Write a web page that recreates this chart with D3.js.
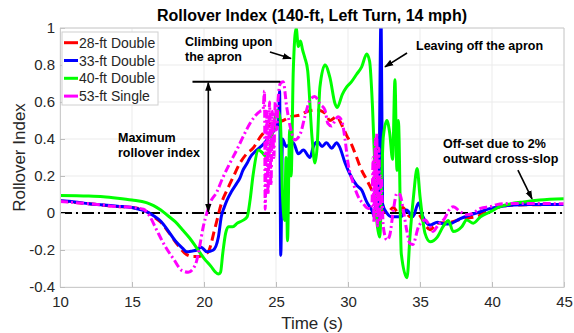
<!DOCTYPE html>
<html>
<head>
<meta charset="utf-8">
<script src="https://cdn.jsdelivr.net/npm/d3@7"></script>
<style>
  html, body { margin: 0; padding: 0; background: #fff; }
  svg { display: block; font-family: "Liberation Sans", Arial, Helvetica, sans-serif; }
</style>
</head>
<body>
<svg id="chart" width="574" height="333"></svg>
<script>
// ---------- data ----------
const xTicks = [10, 15, 20, 25, 30, 35, 40, 45];
const yTicks = [-0.4, -0.2, 0, 0.2, 0.4, 0.6, 0.8, 1];
const seriesNames = ["28-ft Double", "33-ft Double", "40-ft Double", "53-ft Single"];

const t28 = [10, 12, 14, 15, 16, 16.5, 17, 17.6, 18.2, 18.8, 19.2, 19.6, 20.0, 20.3, 20.5, 20.7, 20.9, 21.2, 21.6, 22.0, 22.5, 22.96, 23.4, 23.9, 24.1, 24.7, 25.05, 25.5, 26.0, 26.7, 27.2, 27.8, 28.4, 28.75, 29.2, 29.6, 29.9, 30.25, 30.6, 30.95, 31.3, 31.65, 32.0, 32.3, 32.7, 33.15, 33.5, 33.8, 34.3, 34.8, 35.2, 35.45, 35.7, 36.2, 37.1, 38.0, 38.9, 40.1, 41.5, 45];
const v28 = [0.065, 0.05, 0.035, 0.03, 0.008, -0.02, -0.05, -0.11, -0.175, -0.225, -0.235, -0.235, -0.225, -0.21, -0.165, -0.1, -0.04, 0.05, 0.124, 0.19, 0.27, 0.32, 0.35, 0.41, 0.43, 0.485, 0.49, 0.5, 0.52, 0.53, 0.55, 0.557, 0.54, 0.50, 0.52, 0.47, 0.42, 0.37, 0.30, 0.23, 0.18, 0.124, 0.07, 0.016, 0.0, 0.03, 0.0, 0.03, -0.02, 0.0, -0.04, -0.074, -0.09, -0.055, -0.05, -0.03, -0.02, 0.022, 0.043, 0.046];

const t33 = [10, 11, 12, 13, 14, 15, 15.5, 16, 16.5, 17, 17.5, 18, 18.5, 18.8, 19.2, 19.5, 19.8, 20.2, 20.65, 21.0, 21.2, 21.4, 21.6, 21.9, 22.27, 22.5, 22.7, 23.0, 23.2, 23.66, 24.1, 24.6, 25.05, 25.18, 25.25, 25.33, 25.45, 25.7, 26.2, 26.55, 26.9, 27.36, 27.6, 27.9, 28.2, 28.5, 28.87, 29.2, 29.4, 29.8, 30.1, 30.6, 30.95, 31.3, 31.65, 31.9, 32.0, 32.1, 32.3, 32.4, 32.7, 33.0, 33.4, 33.7, 34.07, 34.5, 34.9, 35.2, 35.7, 36.2, 36.7, 37.2, 37.8, 38.5, 39.2, 39.9, 40.55, 41.5, 42.6, 45];
const v33 = [0.066, 0.06, 0.05, 0.043, 0.037, 0.03, 0.02, 0.007, -0.015, -0.045, -0.095, -0.15, -0.19, -0.21, -0.205, -0.2, -0.185, -0.21, -0.2, -0.13, -0.02, 0.03, 0.07, 0.115, 0.16, 0.19, 0.23, 0.27, 0.30, 0.34, 0.37, 0.42, 0.47, 0.5, 0.66, -0.23, 0.40, 0.36, 0.38, 0.32, 0.34, 0.30, 0.36, 0.385, 0.36, 0.38, 0.35, 0.38, 0.36, 0.27, 0.215, 0.15, 0.124, 0.06, 0.016, -0.03, 0.4, -0.074, 1.08, 0.05, 0.0, -0.02, -0.02, -0.02, 0.016, -0.02, 0.054, -0.02, -0.065, -0.05, -0.06, -0.055, -0.03, -0.01, 0.007, 0.025, 0.034, 0.043, 0.046, 0.046];

const t40 = [10, 12, 13, 14, 15, 16, 16.5, 17, 17.5, 18, 18.5, 19, 19.5, 20, 20.5, 20.8, 21.0, 21.15, 21.3, 21.5, 21.7, 22.0, 22.3, 22.7, 23.0, 23.2, 23.4, 23.8, 24.0, 24.4, 24.8, 25.1, 25.3, 25.45, 25.6, 25.7, 25.8, 25.95, 26.05, 26.2, 26.4, 26.55, 26.7, 26.85, 27.0, 27.2, 27.5, 27.7, 27.85, 28.05, 28.4, 28.75, 29.1, 29.25, 29.6, 29.9, 30.25, 30.6, 30.95, 31.3, 31.5, 31.7, 31.9, 32.0, 32.2, 32.45, 32.7, 32.9, 33.1, 33.26, 33.4, 33.5, 33.7, 34.1, 34.3, 34.55, 34.8, 35.0, 35.35, 35.7, 36.2, 36.6, 36.97, 37.3, 37.9, 38.24, 38.7, 39.2, 39.9, 40.55, 41.25, 42.2, 43.3, 45];
const v40 = [0.095, 0.092, 0.088, 0.08, 0.07, 0.056, 0.04, 0.016, -0.015, -0.047, -0.09, -0.135, -0.19, -0.245, -0.29, -0.32, -0.33, -0.32, -0.22, -0.11, -0.074, -0.074, -0.056, -0.04, -0.02, 0.07, 0.2, 0.34, 0.33, 0.30, 0.45, 0.555, 0.5, 0.1, -0.04, 0.3, -0.15, 0.45, 0.2, 0.77, 1.0, 0.9, 0.93, 0.88, 0.84, 0.77, 0.41, 0.27, 0.35, 0.68, 0.8, 0.73, 0.59, 0.57, 0.64, 0.68, 0.71, 0.75, 0.79, 0.86, 0.82, 0.575, 0.18, -0.04, -0.13, 0.41, 0.5, 0.43, 0.29, 0.72, 0.23, 0.5, -0.22, -0.35, -0.13, 0.09, 0.24, 0.09, -0.11, -0.155, -0.13, -0.074, -0.04, -0.1, -0.074, -0.038, -0.055, -0.02, 0.007, 0.034, 0.049, 0.06, 0.07, 0.077];

const t53 = [10, 12, 14, 15, 15.8, 16.25, 16.7, 17.3, 17.9, 18.45, 18.9, 19.4, 19.7, 19.95, 20.2, 20.4, 20.9, 21.3, 21.8, 22.27, 22.7, 23.2, 23.9, 24.1, 24.2, 24.25, 24.35, 24.45, 24.55, 24.65, 24.75, 24.85, 24.95, 25.05, 25.15, 25.3, 25.5, 25.74, 26.1, 26.3, 26.7, 27.0, 27.36, 27.7, 28.05, 28.4, 28.6, 28.87, 29.1, 29.3, 29.56, 29.8, 30.0, 30.37, 30.7, 31.06, 31.4, 31.65, 31.75, 31.8, 31.9, 31.95, 32.0, 32.05, 32.15, 32.2, 32.3, 32.45, 32.7, 32.9, 33.15, 33.4, 33.6, 33.84, 34.07, 34.3, 34.5, 34.9, 35.35, 35.7, 35.9, 36.3, 36.7, 37.1, 37.3, 37.8, 38.24, 38.7, 39.2, 39.9, 40.55, 41.5, 45];
const v53 = [0.062, 0.05, 0.035, 0.03, 0.02, -0.02, -0.09, -0.18, -0.25, -0.31, -0.32, -0.28, -0.18, -0.074, 0.0, 0.05, 0.115, 0.19, 0.27, 0.34, 0.41, 0.485, 0.55, 0.557, 0.66, 0.02, 0.55, 0.1, 0.6, 0.15, 0.55, 0.3, 0.6, 0.45, 0.62, 0.70, 0.71, 0.575, 0.43, 0.395, 0.43, 0.52, 0.61, 0.63, 0.59, 0.557, 0.485, 0.47, 0.50, 0.52, 0.50, 0.395, 0.27, 0.16, 0.09, 0.05, 0.025, 0.025, 0.3, -0.05, 0.4, 0.0, 0.43, -0.07, 0.35, -0.05, 0.2, -0.074, -0.146, -0.12, 0.016, 0.106, 0.1, 0.016, -0.09, -0.165, -0.17, -0.074, -0.038, -0.074, -0.1, -0.06, -0.03, 0.025, 0.034, 0.007, -0.01, 0.0, 0.025, 0.035, 0.049, 0.052, 0.05];

// annotation values (data units)
const maxRollover = 0.71;

// ---------- layout ----------
const svg = d3.select("#chart");
const L = 60, R = 564, T = 28, B = 287;
const x = d3.scaleLinear().domain([10, 45]).range([L, R]);
const y = d3.scaleLinear().domain([-0.4, 1]).range([B, T]);

const series = [
  {name: seriesNames[0], t: t28, v: v28, color: "#ff0000", dash: "9,5", width: 3},
  {name: seriesNames[1], t: t33, v: v33, color: "#0000ff", dash: null, width: 3},
  {name: seriesNames[2], t: t40, v: v40, color: "#00ff00", dash: null, width: 3},
  {name: seriesNames[3], t: t53, v: v53, color: "#ff00ff", dash: "8,3,2,3", width: 3}
];

// grid
const grid = svg.append("g");
grid.selectAll("line.gx").data(xTicks).join("line")
  .attr("x1", d => x(d)).attr("x2", d => x(d)).attr("y1", T).attr("y2", B)
  .attr("stroke", "#ebebeb").attr("stroke-width", 1);
grid.selectAll("line.gy").data(yTicks).join("line")
  .attr("x1", L).attr("x2", R).attr("y1", d => y(d)).attr("y2", d => y(d))
  .attr("stroke", "#ebebeb").attr("stroke-width", 1);

// clip
svg.append("clipPath").attr("id", "clip").append("rect")
  .attr("x", L).attr("y", T).attr("width", R - L).attr("height", B - T);

// zero dash-dot line
svg.append("line")
  .attr("x1", x(10)).attr("x2", x(45)).attr("y1", y(0)).attr("y2", y(0))
  .attr("stroke", "#000").attr("stroke-width", 2).attr("stroke-dasharray", "12,4,2,4");

// series lines
const line = d3.line().x(d => x(d[0])).y(d => y(d[1])).curve(d3.curveMonotoneX);
const plot = svg.append("g").attr("clip-path", "url(#clip)");
series.forEach(s => {
  const pts = s.t.map((t, i) => [t, s.v[i]]);
  plot.append("path").datum(pts)
    .attr("d", line)
    .attr("fill", "none")
    .attr("stroke", s.color)
    .attr("stroke-width", s.width)
    .attr("stroke-linejoin", "round")
    .attr("stroke-dasharray", s.dash);
});

// axes
const fmt = d => d === 0 ? "0" : String(+d.toFixed(1));
const xAxis = svg.append("g").attr("transform", `translate(0,${B})`)
  .call(d3.axisBottom(x).tickValues(xTicks).tickFormat(fmt).tickSizeInner(-5).tickSizeOuter(0).tickPadding(9));
const yAxis = svg.append("g").attr("transform", `translate(${L},0)`)
  .call(d3.axisLeft(y).tickValues(yTicks).tickFormat(fmt).tickSizeInner(-5).tickSizeOuter(0).tickPadding(5));
[xAxis, yAxis].forEach(a => {
  a.select(".domain").attr("stroke", "#cccccc");
  a.selectAll(".tick line").attr("stroke", "#bdbdbd");
  a.selectAll(".tick text").attr("fill", "#262626").style("font-size", "15px")
    .style("font-family", "'Liberation Sans', Arial, sans-serif");
});
// box top/right
svg.append("line").attr("x1", L).attr("x2", R).attr("y1", T).attr("y2", T).attr("stroke", "#cccccc");
svg.append("line").attr("x1", R).attr("x2", R).attr("y1", T).attr("y2", B).attr("stroke", "#cccccc");

// titles
svg.append("text").attr("x", (L + R) / 2).attr("y", 21).attr("text-anchor", "middle")
  .attr("font-size", 16).attr("font-weight", "bold").attr("fill", "#000")
  .text("Rollover Index (140-ft, Left Turn, 14 mph)");
svg.append("text").attr("x", (L + R) / 2).attr("y", 329).attr("text-anchor", "middle")
  .attr("font-size", 17).attr("fill", "#262626").text("Time (s)");
svg.append("text").attr("transform", `translate(25,${(T + B) / 2}) rotate(-90)`)
  .attr("text-anchor", "middle").attr("font-size", 17).attr("fill", "#262626").text("Rollover Index");

// arrow markers
const defs = svg.append("defs");
defs.append("marker").attr("id", "ah").attr("viewBox", "0 0 10 10")
  .attr("refX", 9).attr("refY", 5).attr("markerWidth", 9).attr("markerHeight", 9)
  .attr("markerUnits", "userSpaceOnUse").attr("orient", "auto-start-reverse")
  .append("path").attr("d", "M0,1.5 L10,5 L0,8.5 Z").attr("fill", "#000");

// annotations
const ann = svg.append("g");
// max rollover bracket
ann.append("line").attr("x1", x(19.2)).attr("x2", x(25.3)).attr("y1", y(maxRollover)).attr("y2", y(maxRollover))
  .attr("stroke", "#000").attr("stroke-width", 2);
ann.append("line").attr("x1", x(20.3)).attr("x2", x(20.3)).attr("y1", y(maxRollover) + 1).attr("y2", y(0) - 1)
  .attr("stroke", "#000").attr("stroke-width", 1.6)
  .attr("marker-start", "url(#ah)").attr("marker-end", "url(#ah)");
// other arrows
const arrows = [
  [24.58, 0.87, 26.04, 0.835],
  [34.1, 0.865, 32.57, 0.79],
  [41.8, 0.232, 42.78, 0.076]
];
arrows.forEach(a => {
  ann.append("line").attr("x1", x(a[0])).attr("y1", y(a[1])).attr("x2", x(a[2])).attr("y2", y(a[3]))
    .attr("stroke", "#000").attr("stroke-width", 1.6).attr("marker-end", "url(#ah)");
});
const labels = [
  [185, 46, "Climbing upon"], [185, 61, "the apron"],
  [416, 50, "Leaving off the apron"],
  [118, 142, "Maximum"], [118, 157, "rollover index"],
  [443, 148, "Off-set due to 2%"], [443, 163, "outward cross-slop"]
];
ann.selectAll("text.lab").data(labels).join("text")
  .attr("x", d => d[0]).attr("y", d => d[1]).attr("font-size", 12.5).attr("font-weight", "bold")
  .attr("fill", "#000").text(d => d[2]);

// legend
const lg = svg.append("g");
lg.append("rect").attr("x", 62).attr("y", 32).attr("width", 96).attr("height", 73)
  .attr("fill", "#fff").attr("stroke", "#d0d0d0").attr("stroke-width", 1);
series.forEach((s, i) => {
  const cy = 42.7 + i * 17.8;
  lg.append("line").attr("x1", 64).attr("x2", 78).attr("y1", cy).attr("y2", cy)
    .attr("stroke", s.color).attr("stroke-width", 3);
  lg.append("text").attr("x", 79).attr("y", cy + 5).attr("font-size", 14).attr("fill", "#262626").text(s.name);
});
</script>
</body>
</html>
